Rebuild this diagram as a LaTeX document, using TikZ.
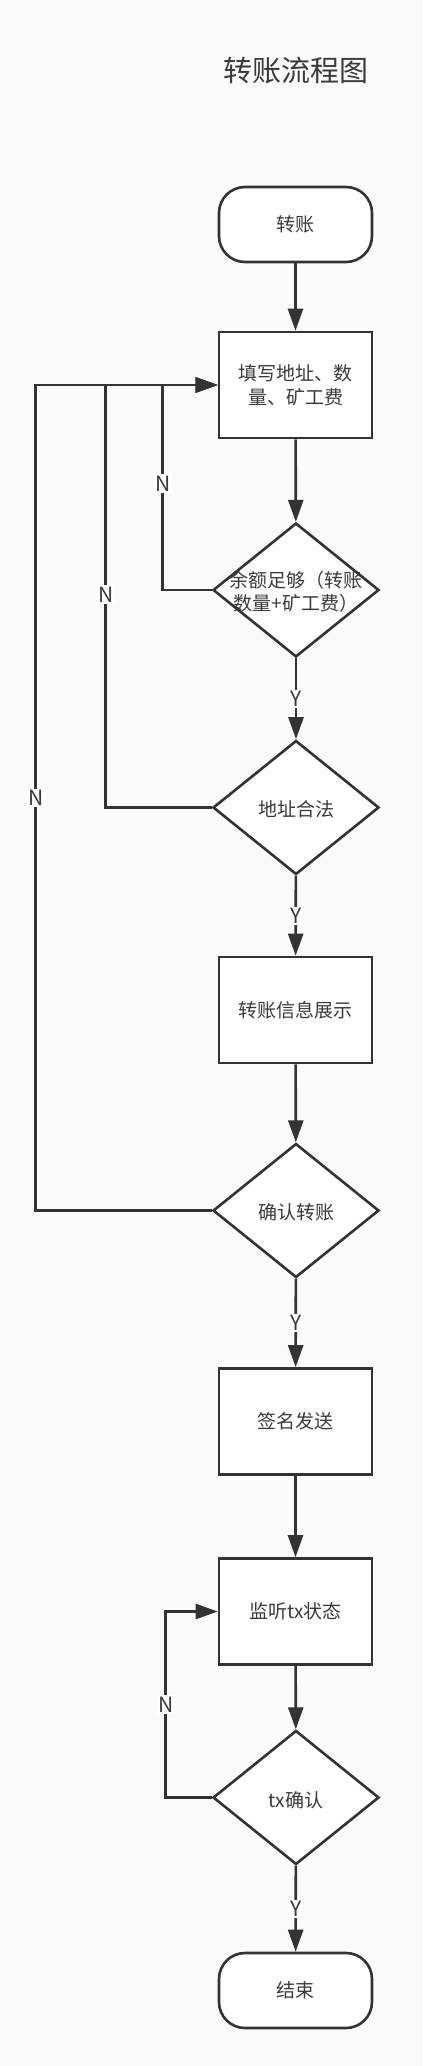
\documentclass[tikz,border=0pt]{standalone}
\usepackage{fontspec}
\setmainfont{Noto Sans CJK SC}
\usetikzlibrary{arrows.meta,shapes.geometric}
\definecolor{ink}{HTML}{333333}
\definecolor{txt}{HTML}{3A3A3A}
\definecolor{bg}{HTML}{FAFAFA}
\tikzset{
  base/.style={draw=ink, line width=2.6pt, fill=white, text=txt, inner sep=0pt,
    font=\fontsize{19pt}{24pt}\selectfont, align=center},
  term/.style={base, rectangle, rounded corners=26pt, minimum width=153pt, minimum height=75pt},
  proc/.style={base, rectangle, minimum width=153pt, minimum height=106pt},
  dia/.style={base, diamond, aspect=1.24, minimum width=166pt, minimum height=134pt},
  dtext/.style={text=txt, font=\fontsize{19pt}{23pt}\selectfont, align=center, inner sep=0pt},
  arr/.style={draw=ink, line width=2.6pt, -{Triangle[length=22pt,width=15pt]}},
  lab/.style={fill=white, text=txt, inner sep=1.5pt, font=\fontsize{21pt}{24pt}\selectfont},
  ttl/.style={text=txt, font=\fontsize{29pt}{34pt}\selectfont, inner sep=0pt}
}
\begin{document}
\begin{tikzpicture}[x=1pt,y=-1pt]
\fill[bg] (0,0) rectangle (423,2066);
\useasboundingbox (0,0) rectangle (423,2066);

\node[ttl] (title) at (295.5,71) {转账流程图};

\node[term] (start) at (295.5,224.5) {转账};
\node[proc] (b1) at (295.5,385) {填写地址、数\\量、矿工费};
\node[dia] (d1) at (296,590) {};
\node[dtext] (t1) at (296,592) {余额足够（转账\\数量+矿工费）};
\node[dia] (d2) at (296,807.5) {};
\node[dtext] (t2) at (296,809) {地址合法};
\node[proc] (b2) at (295.5,1010) {转账信息展示};
\node[dia] (d3) at (296,1210.5) {};
\node[dtext] (t3) at (296,1212) {确认转账};
\node[proc] (b3) at (295.5,1421.5) {签名发送};
\node[proc] (b4) at (295.5,1611.5) {监听tx状态};
\node[dia] (d4) at (296,1797.5) {};
\node[dtext] (t4) at (296,1800) {tx确认};
\node[term] (stop) at (295.5,1990.5) {结束};

\draw[arr] (start) -- (b1);
\draw[arr] (b1) -- (d1);
\draw[arr] (d1) -- node[lab] {Y} (d2);
\draw[arr] (d2) -- node[lab] {Y} (b2);
\draw[arr] (b2) -- (d3);
\draw[arr] (d3) -- node[lab] {Y} (b3);
\draw[arr] (b3) -- (b4);
\draw[arr] (b4) -- (d4);
\draw[arr] (d4) -- node[lab] {Y} (stop);

\draw[arr] (d1.west) -- ++(-49,0) |- node[lab,pos=0.26] {N} (b1.west);
\draw[arr] (d2.west) -- ++(-106,0) |- node[lab,pos=0.252] {N} (b1.west);
\draw[arr] (d3.west) -- ++(-176,0) |- node[lab,pos=0.25] {N} (b1.west);
\draw[arr] (d4.west) -- ++(-46,0) |- node[lab,pos=0.25] {N} (b4.west);
\end{tikzpicture}
\end{document}
